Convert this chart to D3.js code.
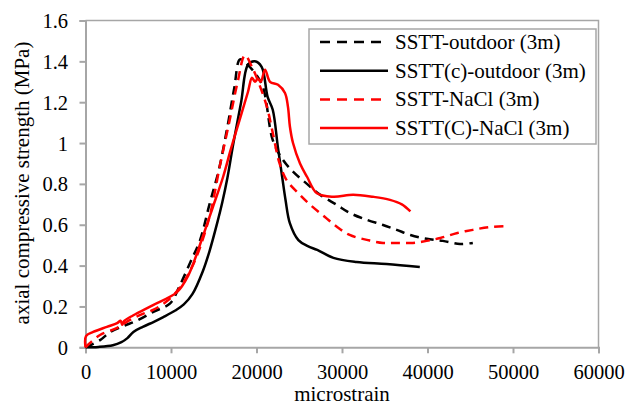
<!DOCTYPE html>
<html>
<head>
<meta charset="utf-8">
<script src="https://cdn.jsdelivr.net/npm/d3@7"></script>
<style>
  body { margin: 0; background: #fff; }
  svg { display: block; font-family: "Liberation Serif", "Times New Roman", "DejaVu Serif", serif; }
  svg text { font-family: "Liberation Serif", "Times New Roman", "DejaVu Serif", serif; }
</style>
</head>
<body>
<svg width="637" height="406"></svg>
<script>

// series data (x = microstrain, y = MPa)
var outdoorX = [0, 1700, 2900, 4500, 6000, 8000, 9900, 11000, 12300, 13400, 14500, 15600, 16600, 17400, 18070, 18800, 20600, 21900, 23100, 24300, 25900, 27500, 29400, 30900, 32900, 34800, 36400, 38000, 39900, 41800, 43800, 45300];
var outdoorY = [0, 0.035, 0.075, 0.105, 0.13, 0.175, 0.215, 0.30, 0.42, 0.525, 0.70, 0.87, 1.08, 1.27, 1.41, 1.39, 1.29, 1.015, 0.917, 0.859, 0.80, 0.745, 0.697, 0.658, 0.624, 0.599, 0.575, 0.55, 0.531, 0.521, 0.506, 0.511];

var outdoorCX = [0, 1500, 3200, 4200, 4900, 5600, 6700, 8000, 9100, 10500, 11500, 12500, 13700, 14500, 15400, 16000, 16600, 17300, 18200, 19000, 19800, 20600, 21300, 21900, 22500, 23000, 23400, 23900, 24900, 26000, 27100, 29000, 31700, 35200, 39100];
var outdoorCY = [0, 0.002, 0.01, 0.025, 0.045, 0.075, 0.10, 0.125, 0.148, 0.18, 0.21, 0.26, 0.37, 0.47, 0.608, 0.71, 0.83, 1.0, 1.2, 1.383, 1.40, 1.373, 1.226, 1.163, 0.98, 0.835, 0.72, 0.608, 0.525, 0.495, 0.477, 0.438, 0.418, 0.408, 0.393];

var naclX = [0, 500, 1700, 3700, 5200, 6500, 7900, 9500, 11000, 12300, 13400, 14600, 15700, 16800, 17800, 18650, 19500, 20300, 21200, 21900, 22700, 23500, 24900, 26300, 28000, 29400, 30900, 32900, 34800, 36400, 38300, 39900, 41500, 43500, 45300, 47300, 49500];
var naclY = [0, 0.02, 0.06, 0.095, 0.134, 0.16, 0.183, 0.225, 0.29, 0.38, 0.49, 0.656, 0.885, 1.1, 1.3, 1.43, 1.37, 1.29, 1.18, 1.05, 0.90, 0.82, 0.754, 0.697, 0.638, 0.59, 0.55, 0.526, 0.511, 0.511, 0.511, 0.521, 0.535, 0.56, 0.575, 0.589, 0.594];

var naclCX = [0, 60, 900, 2500, 3700, 4100, 4300, 4500, 5600, 7900, 10700, 12000, 13700, 14900, 16100, 17000, 18000, 19000, 19470, 19820, 20170, 20500, 21000, 21580, 22520, 23330, 23680, 23910, 24270, 25090, 25910, 27070, 28960, 31300, 33620, 35610, 37000, 38000];
var naclCY = [0, 0.055, 0.075, 0.10, 0.118, 0.13, 0.11, 0.128, 0.157, 0.207, 0.27, 0.35, 0.54, 0.687, 0.835, 0.97, 1.11, 1.25, 1.32, 1.30, 1.315, 1.30, 1.359, 1.30, 1.285, 1.245, 1.177, 1.08, 1.0, 0.9, 0.835, 0.754, 0.737, 0.747, 0.737, 0.722, 0.70, 0.665];

var seriesNames = ["SSTT-outdoor (3m)", "SSTT(c)-outdoor (3m)", "SSTT-NaCl (3m)", "SSTT(C)-NaCl (3m)"];
var xTicks = [0, 10000, 20000, 30000, 40000, 50000, 60000];
var yTicks = [0, 0.2, 0.4, 0.6, 0.8, 1, 1.2, 1.4, 1.6];
var yTickLabels = ["0", "0.2", "0.4", "0.6", "0.8", "1", "1.2", "1.4", "1.6"];

var series = [
  { name: seriesNames[0], xs: outdoorX, ys: outdoorY, color: "#000", dash: "9,6" },
  { name: seriesNames[1], xs: outdoorCX, ys: outdoorCY, color: "#000", dash: null },
  { name: seriesNames[2], xs: naclX, ys: naclY, color: "#ff0000", dash: "9,6" },
  { name: seriesNames[3], xs: naclCX, ys: naclCY, color: "#ff0000", dash: null }
];

var gray = "#a6a6a6";

var svg = d3.select("svg");

var x = d3.scaleLinear().domain([0, 60000]).range([85.5, 598.5]);
var y = d3.scaleLinear().domain([0, 1.6]).range([347.3, 20.5]);

// frame top + right
svg.append("path")
  .attr("d", "M" + x(0) + "," + y(1.6) + "H" + x(60000) + "V" + y(0))
  .attr("fill", "none")
  .attr("stroke", gray)
  .attr("stroke-width", 1.5);

var yAxis = svg.append("g")
  .attr("transform", "translate(" + x(0) + ",0)")
  .call(d3.axisLeft(y).tickValues(yTicks).tickSize(6).tickPadding(11.5)
    .tickFormat(function(d, i) { return yTickLabels[i]; }));

var xAxis = svg.append("g")
  .attr("transform", "translate(0," + y(0) + ")")
  .call(d3.axisBottom(x).tickValues(xTicks).tickSize(6).tickPadding(11)
    .tickFormat(function(d) { return d; }));

[yAxis, xAxis].forEach(function(g) {
  g.attr("font-family", null).attr("font-size", null);
  g.select(".domain").attr("stroke", gray).attr("stroke-width", 2);
  g.selectAll(".tick line").attr("stroke", gray).attr("stroke-width", 2);
  g.selectAll(".tick text")
    .style("font-size", "20.5px")
    .attr("fill", "#000");
});
yAxis.selectAll(".tick text").attr("dy", "0.34em");

// curves
var line = d3.line()
  .x(function(d) { return x(d[0]); })
  .y(function(d) { return y(d[1]); })
  .curve(d3.curveCatmullRom.alpha(0.5));

svg.append("g")
  .selectAll("path")
  .data(series)
  .enter()
  .append("path")
  .attr("d", function(s) { return line(s.xs.map(function(v, i) { return [v, s.ys[i]]; })); })
  .attr("fill", "none")
  .attr("stroke", function(s) { return s.color; })
  .attr("stroke-width", 2.5)
  .attr("stroke-dasharray", function(s) { return s.dash; });

// axis titles
svg.append("text")
  .attr("x", 342)
  .attr("y", 401)
  .attr("text-anchor", "middle")
  .style("font-size", "21px")
  .text("microstrain");

svg.append("text")
  .attr("transform", "translate(29,183) rotate(-90)")
  .attr("text-anchor", "middle")
  .style("font-size", "21px")
  .text("axial compressive strength (MPa)");

// legend
var legend = svg.append("g");
legend.append("rect")
  .attr("x", 309)
  .attr("y", 29)
  .attr("width", 287)
  .attr("height", 115)
  .attr("fill", "#fff")
  .attr("stroke", gray)
  .attr("stroke-width", 1.5);

var rows = legend.selectAll("g.row")
  .data(series)
  .enter()
  .append("g")
  .attr("class", "row")
  .attr("transform", function(d, i) { return "translate(0," + (42 + i * 28.7) + ")"; });

rows.append("line")
  .attr("x1", 320)
  .attr("x2", 388)
  .attr("stroke", function(s) { return s.color; })
  .attr("stroke-width", 2.5)
  .attr("stroke-dasharray", function(s) { return s.dash ? "10,7" : null; });

rows.append("text")
  .attr("x", 395)
  .attr("y", 7)
  .style("font-size", "21px")
  .text(function(s) { return s.name; });

</script>
</body>
</html>
